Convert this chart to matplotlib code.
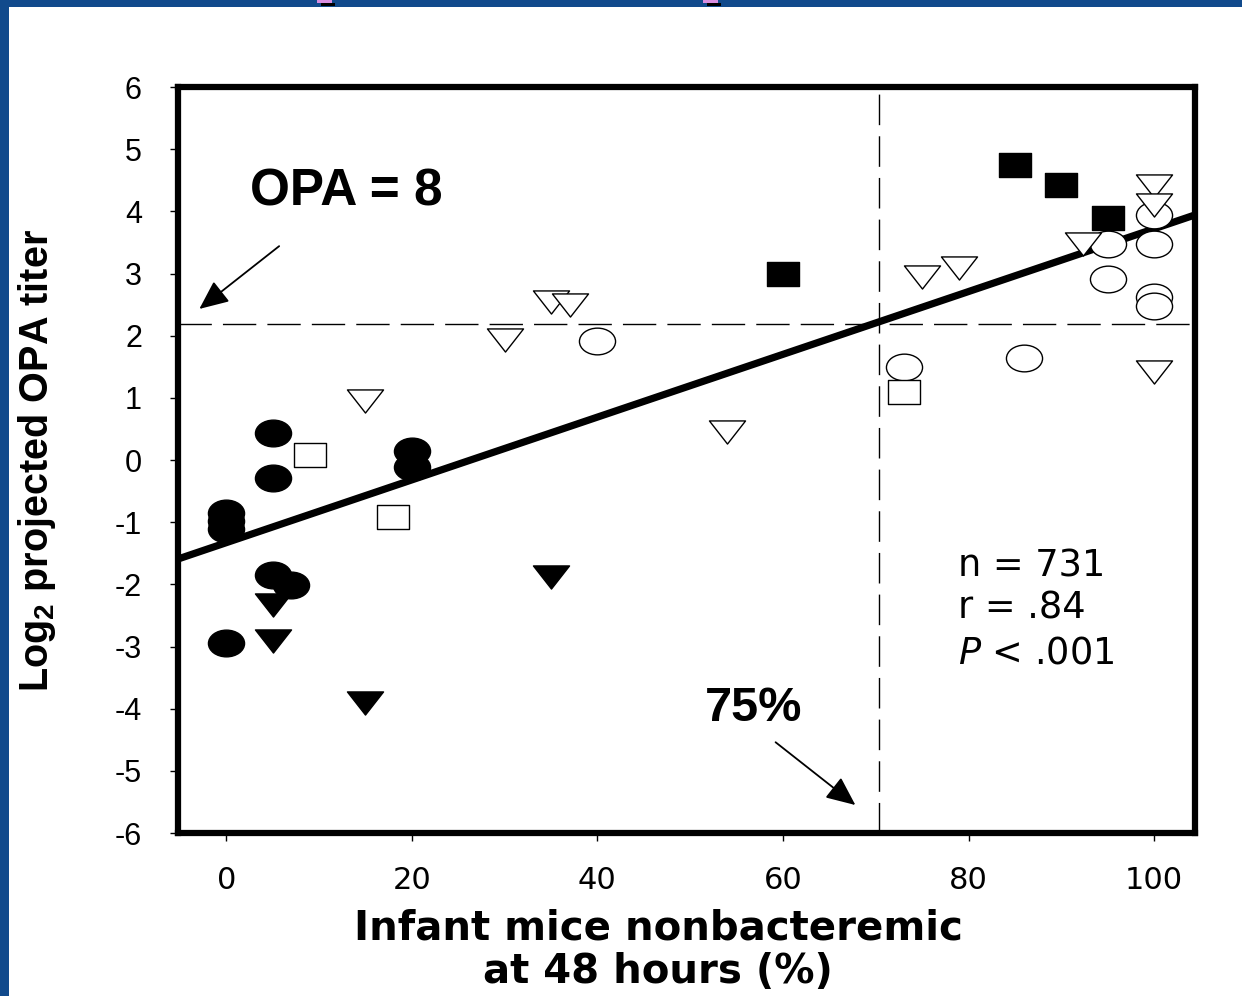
import matplotlib
matplotlib.use('Agg')
import matplotlib.pyplot as plt
from matplotlib.path import Path
from matplotlib.transforms import Affine2D
from matplotlib.patches import Rectangle
from matplotlib.markers import MarkerStyle
import numpy as np

# groups of points: % infant mice nonbacteremic vs log2 projected OPA titer
filled_circle_x = [0, 0, 0, 5, 5, 5, 7, 0, 20, 20]
filled_circle_y = [-0.85, -0.98, -1.11, 0.43, -0.29, -1.85, -2.01, -2.95, 0.15, -0.12]

open_circle_x = [40, 73, 86, 95, 95, 100, 100, 100, 100]
open_circle_y = [1.91, 1.50, 1.64, 3.47, 2.91, 3.94, 3.47, 2.62, 2.48]

filled_tri_x = [5, 5, 15, 35]
filled_tri_y = [-2.33, -2.91, -3.91, -1.88]

open_tri_x = [15, 30, 35, 37, 54, 75, 79, 92.3, 100, 100, 100]
open_tri_y = [0.95, 1.93, 2.54, 2.49, 0.45, 2.94, 3.09, 3.47, 4.41, 4.10, 1.42]

filled_sq_x = [60, 85, 90, 95]
filled_sq_y = [2.99, 4.74, 4.43, 3.90]

open_sq_x = [9, 18, 73]
open_sq_y = [0.08, -0.92, 1.09]

# regression and cut-offs
fit_slope = 0.0505
fit_intercept = -1.33
opa_cut = 2.19
pct_cut = 70.3

n_obs = 731
r_val = '.84'
p_val = '.001'

x_ticks = [0, 20, 40, 60, 80, 100]
y_ticks = list(range(-6, 7))

plt.rcParams['font.family'] = ['Liberation Sans', 'DejaVu Sans']
plt.rcParams['mathtext.default'] = 'regular'

# markers are a bit wider than tall
squash = Affine2D().scale(1, 0.74)
ellipse = Path.unit_circle().transformed(squash)
rect = Path([(-1, -0.74), (1, -0.74), (1, 0.74), (-1, 0.74), (-1, -0.74)],
            [Path.MOVETO, Path.LINETO, Path.LINETO, Path.LINETO, Path.CLOSEPOLY])
tri_down = Path([(-1, 0.64), (1, 0.64), (0, -0.64), (-1, 0.64)],
                [Path.MOVETO, Path.LINETO, Path.LINETO, Path.CLOSEPOLY])

fig = plt.figure(figsize=(12.42, 9.96), dpi=100, facecolor='white')

# slide background strips
blue = '#114a8c'
fig.patches.append(Rectangle((0, 0), 9 / 1242, 1, transform=fig.transFigure,
                             facecolor=blue, edgecolor='none', zorder=0))
fig.patches.append(Rectangle((0, 1 - 7 / 996), 1, 7 / 996, transform=fig.transFigure,
                             facecolor=blue, edgecolor='none', zorder=0))
for xl in (317, 703):
    fig.patches.append(Rectangle((xl / 1242, 1 - 3 / 996), 15 / 1242, 3 / 996,
                                 transform=fig.transFigure, facecolor='#d98ee0',
                                 edgecolor='none', zorder=1))
    fig.patches.append(Rectangle(((xl + 4) / 1242, 1 - 6 / 996), 14 / 1242, 3 / 996,
                                 transform=fig.transFigure, facecolor='black',
                                 edgecolor='none', zorder=1))

ax = fig.add_axes([178 / 1242, 1 - 833 / 996, (1195 - 178) / 1242, (833 - 87) / 996])
ax.set_xlim(-5.2, 104.4)
ax.set_ylim(-6, 6)

ax.axhline(opa_cut, color='black', lw=1.0, dashes=(24, 8), zorder=1)
ax.axvline(pct_cut, color='black', lw=1.0, dashes=(22, 8), zorder=1)

xs = np.array(ax.get_xlim())
ax.plot(xs, fit_intercept + fit_slope * xs, color='black', lw=5.2,
        solid_capstyle='butt', zorder=2)

def draw(x, y, path, size, filled):
    ax.plot(x, y, ls='none', marker=MarkerStyle(path), markersize=size,
            markerfacecolor='black' if filled else 'white',
            markeredgecolor='black', markeredgewidth=1.0, zorder=3,
            clip_on=False)

draw(filled_circle_x, filled_circle_y, ellipse, 26, True)
draw(open_circle_x, open_circle_y, ellipse, 26, False)
draw(filled_tri_x, filled_tri_y, tri_down, 26, True)
draw(open_tri_x, open_tri_y, tri_down, 26, False)
draw(filled_sq_x, filled_sq_y, rect, 22.5, True)
draw(open_sq_x, open_sq_y, rect, 22.5, False)

for s in ax.spines.values():
    s.set_linewidth(4.5)
    s.set_zorder(5)

ax.set_xticks(x_ticks)
ax.set_xticklabels([str(v) for v in x_ticks], family='DejaVu Sans', fontsize=22)
ax.set_yticks(y_ticks)
ax.set_yticklabels([str(v) for v in y_ticks], fontsize=22)
ax.tick_params(axis='both', direction='out', length=6, width=1, color='black')
ax.tick_params(axis='x', pad=18)
ax.tick_params(axis='y', pad=20)

fig.text(658 / 1242, 1 - 950 / 996, 'Infant mice nonbacteremic\nat 48 hours (%)',
         ha='center', va='center', fontsize=29, fontweight='bold',
         family='DejaVu Sans', linespacing=1.12)
fig.text(37 / 1242, 1 - 460 / 996, 'Log$_2$ projected OPA titer', rotation=90,
         ha='center', va='center', fontsize=28.5, fontweight='bold')

# cut-off call-outs
arrow_kw = dict(arrowstyle='-|>,head_length=0.45,head_width=0.2',
                mutation_scale=40, lw=1.3, color='black', shrinkA=0, shrinkB=0)
ax.text(2.6, 4.31, 'OPA = 8', ha='left', va='center', fontsize=37, fontweight='bold')
ax.annotate('', xy=(-2.9, 2.43), xytext=(5.7, 3.44), arrowprops=arrow_kw)
ax.text(51.6, -3.99, '75%', ha='left', va='center', fontsize=35, fontweight='bold')
ax.annotate('', xy=(67.8, -5.55), xytext=(59.2, -4.54), arrowprops=arrow_kw)

stat_kw = dict(ha='left', va='center', fontsize=26.5, family='DejaVu Sans')
ax.text(78.9, -1.70, f'n = {n_obs}', **stat_kw)
ax.text(78.9, -2.38, f'r = {r_val}', **stat_kw)
ax.text(78.9, -3.10, r'$\mathit{P}$ < ' + p_val, **stat_kw)

fig.savefig('out.png', dpi=100, facecolor='white')
